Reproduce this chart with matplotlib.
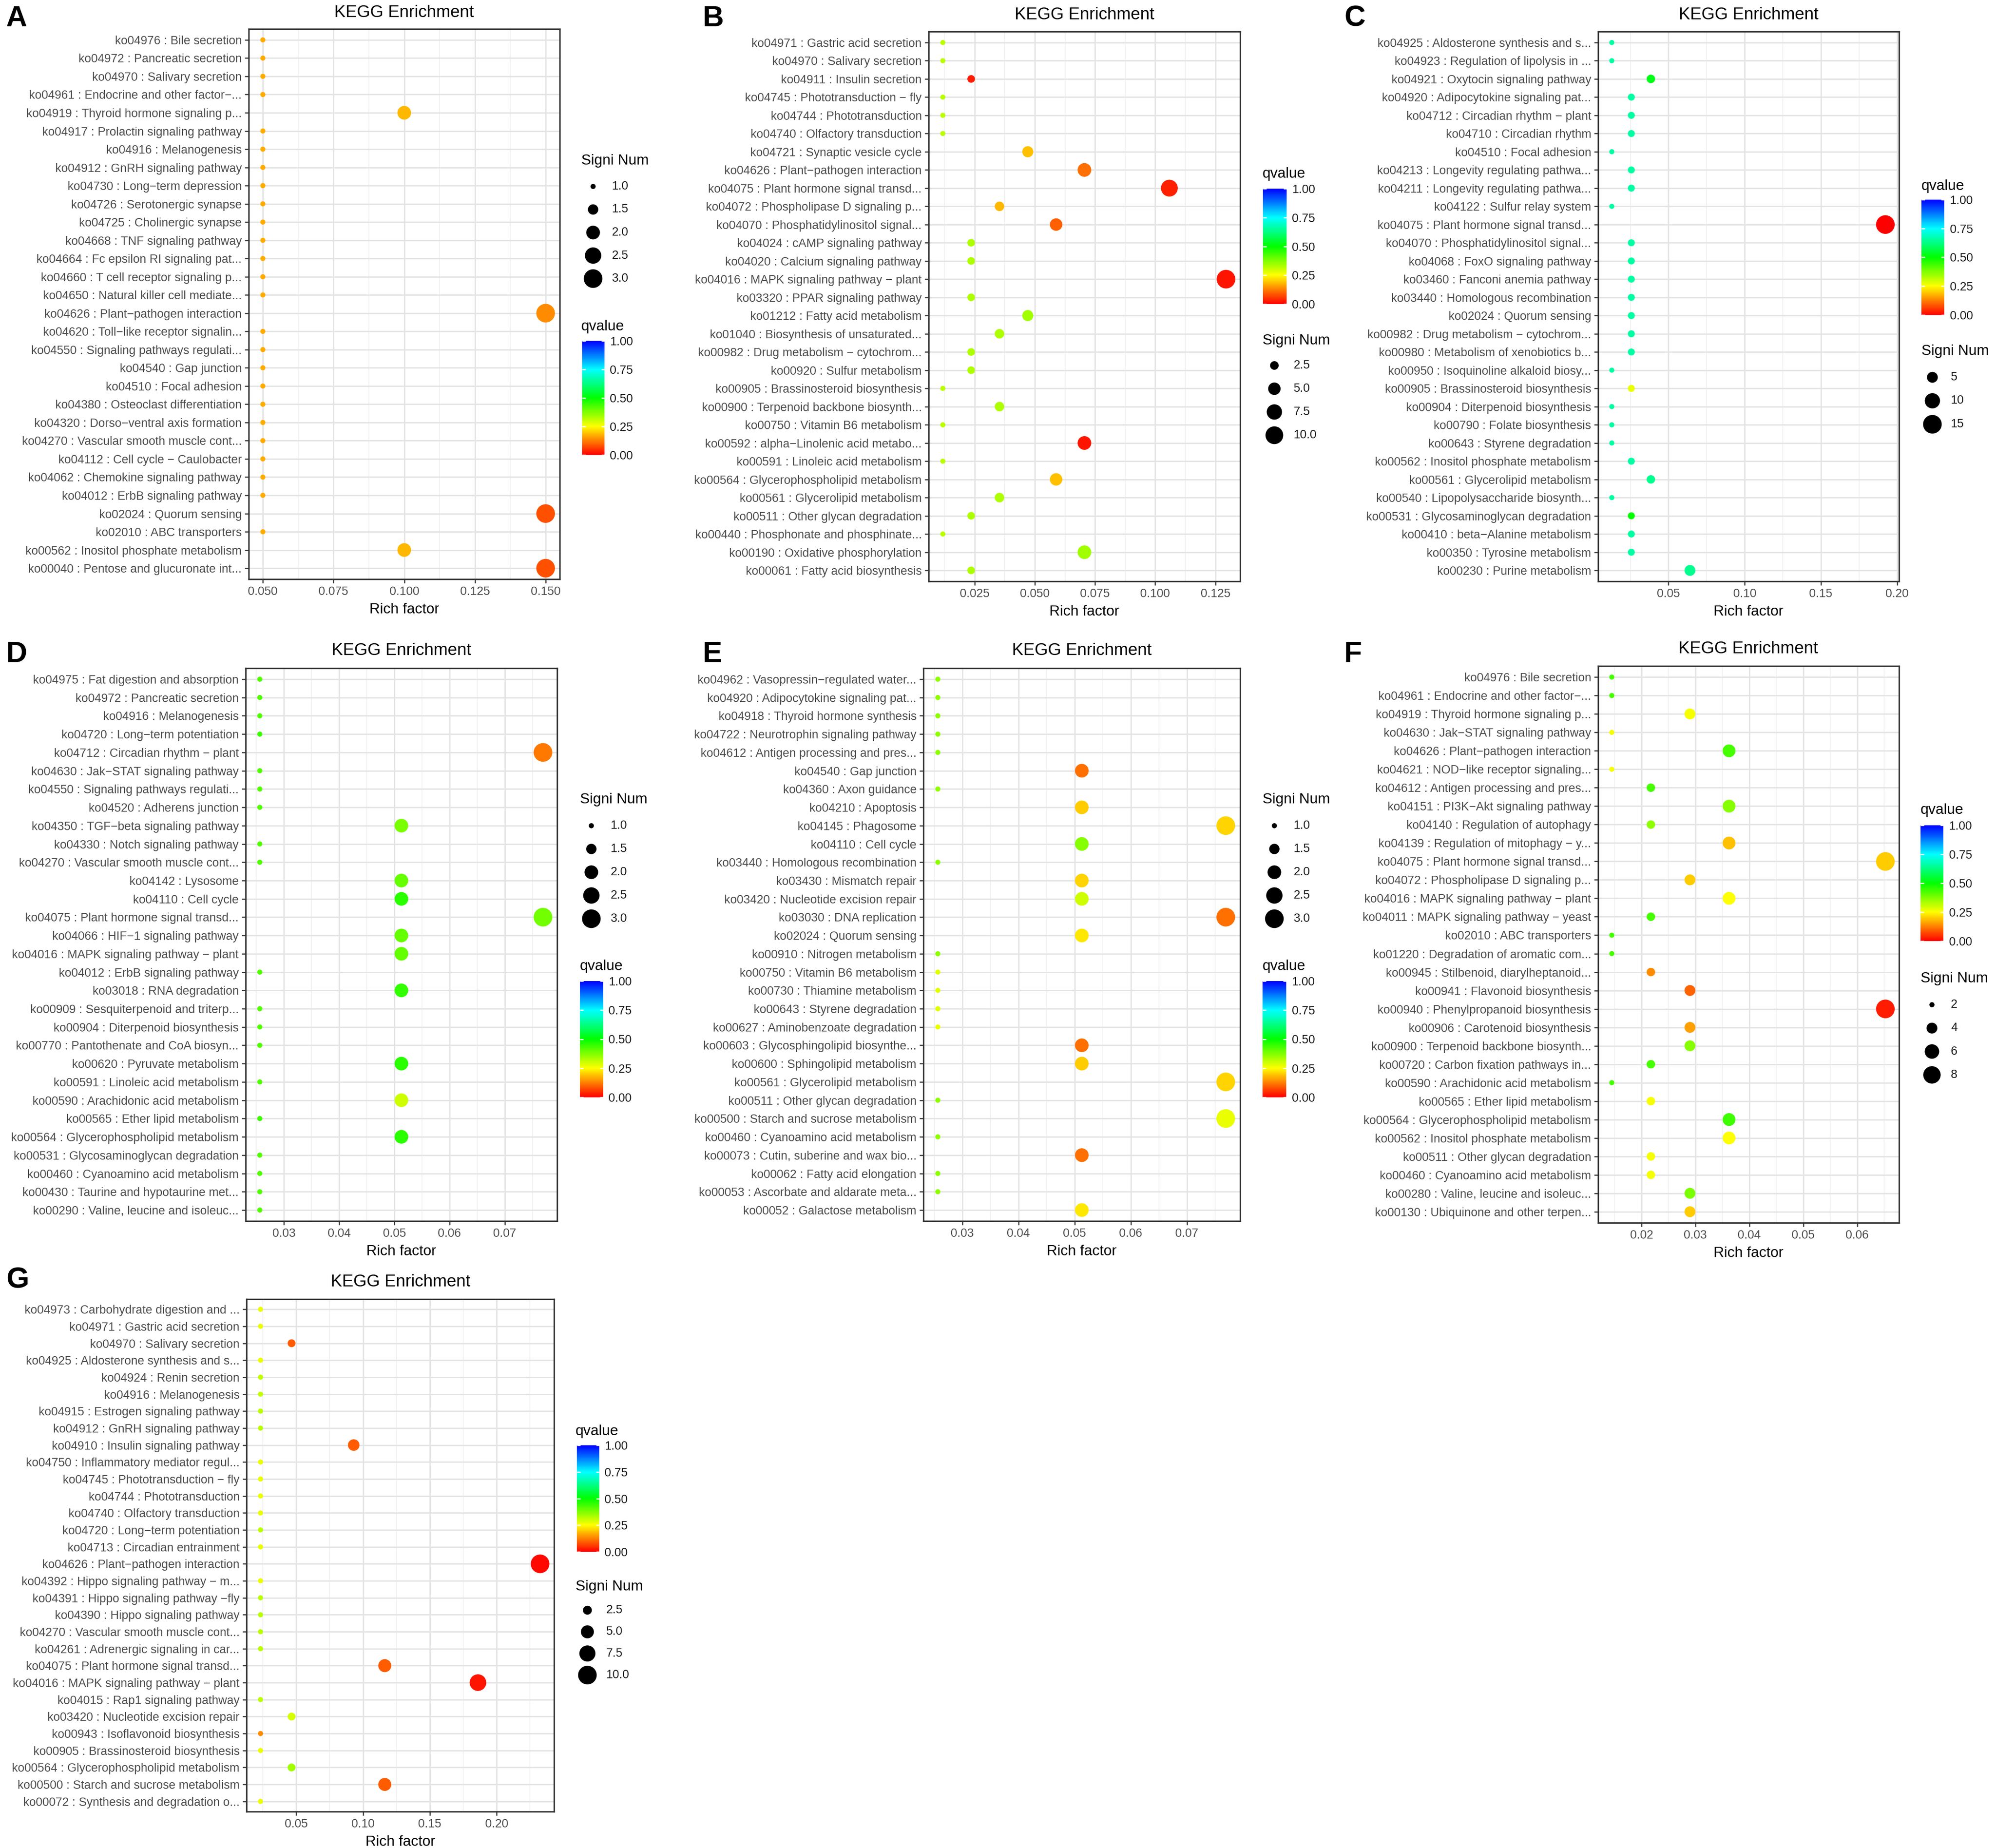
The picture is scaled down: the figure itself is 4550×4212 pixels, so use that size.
import numpy as np
import matplotlib
matplotlib.use("Agg")
import matplotlib.pyplot as plt
from matplotlib.colors import LinearSegmentedColormap, Normalize
from matplotlib.cm import ScalarMappable
from matplotlib.ticker import MultipleLocator, FormatStrFormatter

plt.rcParams['font.family'] = ['Liberation Sans', 'DejaVu Sans']

# ---------------- data ----------------
a_terms = [
    "ko04976 : Bile secretion", "ko04972 : Pancreatic secretion", "ko04970 : Salivary secretion",
    "ko04961 : Endocrine and other factor−...", "ko04919 : Thyroid hormone signaling p...",
    "ko04917 : Prolactin signaling pathway", "ko04916 : Melanogenesis", "ko04912 : GnRH signaling pathway",
    "ko04730 : Long−term depression", "ko04726 : Serotonergic synapse", "ko04725 : Cholinergic synapse",
    "ko04668 : TNF signaling pathway", "ko04664 : Fc epsilon RI signaling pat...",
    "ko04660 : T cell receptor signaling p...", "ko04650 : Natural killer cell mediate...",
    "ko04626 : Plant−pathogen interaction", "ko04620 : Toll−like receptor signalin...",
    "ko04550 : Signaling pathways regulati...", "ko04540 : Gap junction", "ko04510 : Focal adhesion",
    "ko04380 : Osteoclast differentiation", "ko04320 : Dorso−ventral axis formation",
    "ko04270 : Vascular smooth muscle cont...", "ko04112 : Cell cycle − Caulobacter",
    "ko04062 : Chemokine signaling pathway", "ko04012 : ErbB signaling pathway",
    "ko02024 : Quorum sensing", "ko02010 : ABC transporters",
    "ko00562 : Inositol phosphate metabolism", "ko00040 : Pentose and glucuronate int...",
]
a_signi = [1, 1, 1, 1, 2, 1, 1, 1, 1, 1, 1, 1, 1, 1, 1, 3, 1, 1, 1, 1, 1, 1, 1, 1, 1, 1, 3, 1, 2, 3]
a_q = [0.17, 0.17, 0.17, 0.17, 0.18, 0.17, 0.17, 0.17, 0.17, 0.17, 0.17, 0.17, 0.17, 0.17, 0.17,
       0.14, 0.17, 0.17, 0.17, 0.17, 0.17, 0.17, 0.17, 0.17, 0.17, 0.17, 0.08, 0.17, 0.18, 0.08]
a_total = 20

b_terms = [
    "ko04971 : Gastric acid secretion", "ko04970 : Salivary secretion", "ko04911 : Insulin secretion",
    "ko04745 : Phototransduction − fly", "ko04744 : Phototransduction", "ko04740 : Olfactory transduction",
    "ko04721 : Synaptic vesicle cycle", "ko04626 : Plant−pathogen interaction",
    "ko04075 : Plant hormone signal transd...", "ko04072 : Phospholipase D signaling p...",
    "ko04070 : Phosphatidylinositol signal...", "ko04024 : cAMP signaling pathway",
    "ko04020 : Calcium signaling pathway", "ko04016 : MAPK signaling pathway − plant",
    "ko03320 : PPAR signaling pathway", "ko01212 : Fatty acid metabolism",
    "ko01040 : Biosynthesis of unsaturated...", "ko00982 : Drug metabolism − cytochrom...",
    "ko00920 : Sulfur metabolism", "ko00905 : Brassinosteroid biosynthesis",
    "ko00900 : Terpenoid backbone biosynth...", "ko00750 : Vitamin B6 metabolism",
    "ko00592 : alpha−Linolenic acid metabo...", "ko00591 : Linoleic acid metabolism",
    "ko00564 : Glycerophospholipid metabolism", "ko00561 : Glycerolipid metabolism",
    "ko00511 : Other glycan degradation", "ko00440 : Phosphonate and phosphinate...",
    "ko00190 : Oxidative phosphorylation", "ko00061 : Fatty acid biosynthesis",
]
b_signi = [1, 1, 2, 1, 1, 1, 4, 6, 9, 3, 5, 2, 2, 11, 2, 4, 3, 2, 2, 1, 3, 1, 6, 1, 5, 3, 2, 1, 6, 2]
b_q = [0.32, 0.32, 0.03, 0.32, 0.32, 0.32, 0.19, 0.11, 0.035, 0.18, 0.095, 0.33, 0.33, 0.02, 0.33,
       0.34, 0.33, 0.33, 0.33, 0.32, 0.33, 0.32, 0.02, 0.32, 0.19, 0.33, 0.33, 0.32, 0.34, 0.33]
b_total = 85

c_terms = [
    "ko04925 : Aldosterone synthesis and s...", "ko04923 : Regulation of lipolysis in ...",
    "ko04921 : Oxytocin signaling pathway", "ko04920 : Adipocytokine signaling pat...",
    "ko04712 : Circadian rhythm − plant", "ko04710 : Circadian rhythm", "ko04510 : Focal adhesion",
    "ko04213 : Longevity regulating pathwa...", "ko04211 : Longevity regulating pathwa...",
    "ko04122 : Sulfur relay system", "ko04075 : Plant hormone signal transd...",
    "ko04070 : Phosphatidylinositol signal...", "ko04068 : FoxO signaling pathway",
    "ko03460 : Fanconi anemia pathway", "ko03440 : Homologous recombination",
    "ko02024 : Quorum sensing", "ko00982 : Drug metabolism − cytochrom...",
    "ko00980 : Metabolism of xenobiotics b...", "ko00950 : Isoquinoline alkaloid biosy...",
    "ko00905 : Brassinosteroid biosynthesis", "ko00904 : Diterpenoid biosynthesis",
    "ko00790 : Folate biosynthesis", "ko00643 : Styrene degradation",
    "ko00562 : Inositol phosphate metabolism", "ko00561 : Glycerolipid metabolism",
    "ko00540 : Lipopolysaccharide biosynth...", "ko00531 : Glycosaminoglycan degradation",
    "ko00410 : beta−Alanine metabolism", "ko00350 : Tyrosine metabolism", "ko00230 : Purine metabolism",
]
c_signi = [1, 1, 3, 2, 2, 2, 1, 2, 2, 1, 15, 2, 2, 2, 2, 2, 2, 2, 1, 2, 1, 1, 1, 2, 3, 1, 2, 2, 2, 5]
c_q = [0.66, 0.66, 0.52, 0.66, 0.66, 0.66, 0.66, 0.66, 0.66, 0.66, 0.0, 0.66, 0.66, 0.66, 0.66,
       0.66, 0.66, 0.66, 0.66, 0.27, 0.66, 0.66, 0.66, 0.66, 0.64, 0.66, 0.50, 0.66, 0.66, 0.64]
c_total = 78

d_terms = [
    "ko04975 : Fat digestion and absorption", "ko04972 : Pancreatic secretion", "ko04916 : Melanogenesis",
    "ko04720 : Long−term potentiation", "ko04712 : Circadian rhythm − plant",
    "ko04630 : Jak−STAT signaling pathway", "ko04550 : Signaling pathways regulati...",
    "ko04520 : Adherens junction", "ko04350 : TGF−beta signaling pathway",
    "ko04330 : Notch signaling pathway", "ko04270 : Vascular smooth muscle cont...",
    "ko04142 : Lysosome", "ko04110 : Cell cycle", "ko04075 : Plant hormone signal transd...",
    "ko04066 : HIF−1 signaling pathway", "ko04016 : MAPK signaling pathway − plant",
    "ko04012 : ErbB signaling pathway", "ko03018 : RNA degradation",
    "ko00909 : Sesquiterpenoid and triterp...", "ko00904 : Diterpenoid biosynthesis",
    "ko00770 : Pantothenate and CoA biosyn...", "ko00620 : Pyruvate metabolism",
    "ko00591 : Linoleic acid metabolism", "ko00590 : Arachidonic acid metabolism",
    "ko00565 : Ether lipid metabolism", "ko00564 : Glycerophospholipid metabolism",
    "ko00531 : Glycosaminoglycan degradation", "ko00460 : Cyanoamino acid metabolism",
    "ko00430 : Taurine and hypotaurine met...", "ko00290 : Valine, leucine and isoleuc...",
]
d_signi = [1, 1, 1, 1, 3, 1, 1, 1, 2, 1, 1, 2, 2, 3, 2, 2, 1, 2, 1, 1, 1, 2, 1, 2, 1, 2, 1, 1, 1, 1]
d_q = [0.42, 0.42, 0.42, 0.44, 0.12, 0.42, 0.42, 0.42, 0.38, 0.42, 0.42, 0.40, 0.46, 0.39, 0.40,
       0.40, 0.42, 0.45, 0.42, 0.42, 0.42, 0.46, 0.42, 0.30, 0.44, 0.46, 0.42, 0.42, 0.42, 0.42]
d_total = 39

e_terms = [
    "ko04962 : Vasopressin−regulated water...", "ko04920 : Adipocytokine signaling pat...",
    "ko04918 : Thyroid hormone synthesis", "ko04722 : Neurotrophin signaling pathway",
    "ko04612 : Antigen processing and pres...", "ko04540 : Gap junction", "ko04360 : Axon guidance",
    "ko04210 : Apoptosis", "ko04145 : Phagosome", "ko04110 : Cell cycle",
    "ko03440 : Homologous recombination", "ko03430 : Mismatch repair",
    "ko03420 : Nucleotide excision repair", "ko03030 : DNA replication", "ko02024 : Quorum sensing",
    "ko00910 : Nitrogen metabolism", "ko00750 : Vitamin B6 metabolism", "ko00730 : Thiamine metabolism",
    "ko00643 : Styrene degradation", "ko00627 : Aminobenzoate degradation",
    "ko00603 : Glycosphingolipid biosynthe...", "ko00600 : Sphingolipid metabolism",
    "ko00561 : Glycerolipid metabolism", "ko00511 : Other glycan degradation",
    "ko00500 : Starch and sucrose metabolism", "ko00460 : Cyanoamino acid metabolism",
    "ko00073 : Cutin, suberine and wax bio...", "ko00062 : Fatty acid elongation",
    "ko00053 : Ascorbate and aldarate meta...", "ko00052 : Galactose metabolism",
]
e_signi = [1, 1, 1, 1, 1, 2, 1, 2, 3, 2, 1, 2, 2, 3, 2, 1, 1, 1, 1, 1, 2, 2, 3, 1, 3, 1, 2, 1, 1, 2]
e_q = [0.36, 0.36, 0.36, 0.36, 0.36, 0.11, 0.36, 0.20, 0.21, 0.37, 0.36, 0.21, 0.30, 0.11, 0.23,
       0.36, 0.28, 0.28, 0.28, 0.27, 0.11, 0.20, 0.21, 0.36, 0.27, 0.36, 0.11, 0.36, 0.36, 0.23]
e_total = 39

f_terms = [
    "ko04976 : Bile secretion", "ko04961 : Endocrine and other factor−...",
    "ko04919 : Thyroid hormone signaling p...", "ko04630 : Jak−STAT signaling pathway",
    "ko04626 : Plant−pathogen interaction", "ko04621 : NOD−like receptor signaling...",
    "ko04612 : Antigen processing and pres...", "ko04151 : PI3K−Akt signaling pathway",
    "ko04140 : Regulation of autophagy", "ko04139 : Regulation of mitophagy − y...",
    "ko04075 : Plant hormone signal transd...", "ko04072 : Phospholipase D signaling p...",
    "ko04016 : MAPK signaling pathway − plant", "ko04011 : MAPK signaling pathway − yeast",
    "ko02010 : ABC transporters", "ko01220 : Degradation of aromatic com...",
    "ko00945 : Stilbenoid, diarylheptanoid...", "ko00941 : Flavonoid biosynthesis",
    "ko00940 : Phenylpropanoid biosynthesis", "ko00906 : Carotenoid biosynthesis",
    "ko00900 : Terpenoid backbone biosynth...", "ko00720 : Carbon fixation pathways in...",
    "ko00590 : Arachidonic acid metabolism", "ko00565 : Ether lipid metabolism",
    "ko00564 : Glycerophospholipid metabolism", "ko00562 : Inositol phosphate metabolism",
    "ko00511 : Other glycan degradation", "ko00460 : Cyanoamino acid metabolism",
    "ko00280 : Valine, leucine and isoleuc...", "ko00130 : Ubiquinone and other terpen...",
]
f_signi = [2, 2, 4, 2, 5, 2, 3, 5, 3, 5, 9, 4, 5, 3, 2, 2, 3, 4, 9, 4, 4, 3, 2, 3, 5, 5, 3, 3, 4, 4]
f_q = [0.43, 0.43, 0.26, 0.26, 0.43, 0.26, 0.43, 0.37, 0.36, 0.19, 0.20, 0.20, 0.25, 0.43, 0.43,
       0.43, 0.14, 0.10, 0.03, 0.16, 0.37, 0.43, 0.43, 0.26, 0.44, 0.25, 0.26, 0.26, 0.38, 0.20]
f_total = 138

g_terms = [
    "ko04973 : Carbohydrate digestion and ...", "ko04971 : Gastric acid secretion",
    "ko04970 : Salivary secretion", "ko04925 : Aldosterone synthesis and s...",
    "ko04924 : Renin secretion", "ko04916 : Melanogenesis", "ko04915 : Estrogen signaling pathway",
    "ko04912 : GnRH signaling pathway", "ko04910 : Insulin signaling pathway",
    "ko04750 : Inflammatory mediator regul...", "ko04745 : Phototransduction − fly",
    "ko04744 : Phototransduction", "ko04740 : Olfactory transduction",
    "ko04720 : Long−term potentiation", "ko04713 : Circadian entrainment",
    "ko04626 : Plant−pathogen interaction", "ko04392 : Hippo signaling pathway − m...",
    "ko04391 : Hippo signaling pathway −fly", "ko04390 : Hippo signaling pathway",
    "ko04270 : Vascular smooth muscle cont...", "ko04261 : Adrenergic signaling in car...",
    "ko04075 : Plant hormone signal transd...", "ko04016 : MAPK signaling pathway − plant",
    "ko04015 : Rap1 signaling pathway", "ko03420 : Nucleotide excision repair",
    "ko00943 : Isoflavonoid biosynthesis", "ko00905 : Brassinosteroid biosynthesis",
    "ko00564 : Glycerophospholipid metabolism", "ko00500 : Starch and sucrose metabolism",
    "ko00072 : Synthesis and degradation o...",
]
g_signi = [1, 1, 2, 1, 1, 1, 1, 1, 4, 1, 1, 1, 1, 1, 1, 10, 1, 1, 1, 1, 1, 5, 8, 1, 2, 1, 1, 2, 5, 1]
g_q = [0.27, 0.27, 0.09, 0.27, 0.31, 0.31, 0.32, 0.32, 0.09, 0.27, 0.27, 0.27, 0.27, 0.32, 0.27,
       0.01, 0.27, 0.32, 0.32, 0.32, 0.32, 0.09, 0.02, 0.32, 0.29, 0.14, 0.27, 0.34, 0.09, 0.27]
g_total = 43

# ---------------- layout (pixels of the 4550x4212 output) ----------------
W, H = 4550, 4212
qcmap = LinearSegmentedColormap.from_list(
    "qv", [(0, "#ff0000"), (0.25, "#ffff00"), (0.5, "#00ff00"), (0.75, "#00ffff"), (1, "#0000ff")])
DMIN, DMAX = 2.8, 10.2   # point diameters (pt) for smallest / largest Signi Num

# letter, data, box(l,t,r,b), title(x,y), letter(x,y), tick step, tick fmt,
# size legend (breaks, fmt, title y, first key y, key step, dot x, label x, left x),
# qvalue legend (title y, bar l,t,r,b, left x)
panels = [
    dict(letter="A", terms=a_terms, signi=a_signi, q=a_q, total=a_total,
         box=(567, 66, 1276, 1320), title=(921, 29), lab=(13, 43), step=0.025, fmt="%.3f",
         sbreaks=[1, 1.5, 2, 2.5, 3], sfmt="%.1f", sy=367, sk=425, sstep=52.5, sdx=1352, slx=1395, sx=1325,
         qy=744, cb=(1327, 777, 1378, 1037), qx=1325),
    dict(letter="B", terms=b_terms, signi=b_signi, q=b_q, total=b_total,
         box=(2117, 72, 2827, 1325), title=(2472, 34), lab=(1602, 43), step=0.025, fmt="%.3f",
         sbreaks=[2.5, 5, 7.5, 10], sfmt="%.1f", sy=776, sk=833, sstep=53, sdx=2905, slx=2949, sx=2878,
         qy=397, cb=(2879, 430, 2933, 693), qx=2878),
    dict(letter="C", terms=c_terms, signi=c_signi, q=c_q, total=c_total,
         box=(3643, 72, 4329, 1325), title=(3986, 34), lab=(3064, 43), step=0.05, fmt="%.2f",
         sbreaks=[5, 10, 15], sfmt="%d", sy=801, sk=860, sstep=53.5, sdx=4405, slx=4447, sx=4380,
         qy=424, cb=(4380, 455, 4432, 718), qx=4380),
    dict(letter="D", terms=d_terms, signi=d_signi, q=d_q, total=d_total,
         box=(560, 1523, 1270, 2783), title=(915, 1483), lab=(14, 1492), step=0.01, fmt="%.2f",
         sbreaks=[1, 1.5, 2, 2.5, 3], sfmt="%.1f", sy=1823, sk=1882, sstep=53, sdx=1348, slx=1392, sx=1322,
         qy=2202, cb=(1322, 2236, 1375, 2501), qx=1322),
    dict(letter="E", terms=e_terms, signi=e_signi, q=e_q, total=e_total,
         box=(2105, 1523, 2827, 2783), title=(2466, 1483), lab=(1602, 1492), step=0.01, fmt="%.2f",
         sbreaks=[1, 1.5, 2, 2.5, 3], sfmt="%.1f", sy=1823, sk=1882, sstep=53, sdx=2905, slx=2949, sx=2878,
         qy=2202, cb=(2878, 2236, 2932, 2501), qx=2878),
    dict(letter="F", terms=f_terms, signi=f_signi, q=f_q, total=f_total,
         box=(3643, 1518, 4329, 2787), title=(3985, 1479), lab=(3064, 1492), step=0.01, fmt="%.2f",
         sbreaks=[2, 4, 6, 8], sfmt="%d", sy=2230, sk=2290, sstep=53.3, sdx=4404, slx=4447, sx=4378,
         qy=1847, cb=(4378, 1881, 4430, 2145), qx=4378),
    dict(letter="G", terms=g_terms, signi=g_signi, q=g_q, total=g_total,
         box=(562, 2961, 1263, 4129), title=(913, 2922), lab=(14, 2918), step=0.05, fmt="%.2f",
         sbreaks=[2.5, 5, 7.5, 10], sfmt="%.1f", sy=3616, sk=3670, sstep=49.3, sdx=1339, slx=1382, sx=1312,
         qy=3262, cb=(1315, 3294, 1366, 3537), qx=1312),
]


def rect(l, t, r, b):
    return [l / W, 1 - b / H, (r - l) / W, (b - t) / H]


def diam(v, vmin, vmax):
    v = np.asarray(v, float)
    return np.sqrt(DMIN ** 2 + (DMAX ** 2 - DMIN ** 2) * (v - vmin) / (vmax - vmin))


fig = plt.figure(figsize=(W / 300, H / 300), dpi=300)
fig.patch.set_facecolor("white")
ov = fig.add_axes([0, 0, 1, 1], zorder=10)
ov.set_xlim(0, W)
ov.set_ylim(H, 0)
ov.axis("off")

for p in panels:
    ax = fig.add_axes(rect(*p["box"]))
    signi = np.array(p["signi"], float)
    rich = signi / p["total"]
    n = len(p["terms"])
    y = np.arange(n)[::-1]
    vmin, vmax = signi.min(), signi.max()
    ax.scatter(rich, y, s=diam(signi, vmin, vmax) ** 2, c=p["q"], cmap=qcmap, vmin=0, vmax=1,
               linewidths=0, zorder=3)
    pad = (rich.max() - rich.min()) * 0.05
    ax.set_xlim(rich.min() - pad, rich.max() + pad)
    ax.set_ylim(-0.6, n - 0.4)
    ax.set_yticks(y)
    ax.set_yticklabels(p["terms"])
    ax.xaxis.set_major_locator(MultipleLocator(p["step"]))
    ax.xaxis.set_minor_locator(MultipleLocator(p["step"] / 2))
    ax.xaxis.set_major_formatter(FormatStrFormatter(p["fmt"]))
    ax.set_axisbelow(True)
    ax.grid(which="minor", axis="x", color="#f1f1f1", lw=0.45)
    ax.grid(which="major", color="#e4e4e4", lw=0.75)
    ax.tick_params(which="major", length=2.2, width=0.6, color="#333333", labelsize=6.5,
                   labelcolor="#4d4d4d", pad=1.6)
    ax.tick_params(which="minor", length=0)
    for s in ax.spines.values():
        s.set_color("#333333")
        s.set_linewidth(0.8)
    ax.set_xlabel("Rich factor", fontsize=8, labelpad=3)

    ov.text(p["title"][0], p["title"][1], "KEGG Enrichment", fontsize=9.3, ha="center", va="center")
    ov.text(p["lab"][0], p["lab"][1], p["letter"], fontsize=16, fontweight="bold", ha="left", va="center")

    # size legend
    ov.text(p["sx"], p["sy"], "Signi Num", fontsize=8, ha="left", va="center")
    br = np.array(p["sbreaks"], float)
    ky = p["sk"] + p["sstep"] * np.arange(len(br))
    ov.scatter(np.full(len(br), p["sdx"]), ky, s=diam(br, vmin, vmax) ** 2, color="black", linewidths=0)
    for yy, b in zip(ky, br):
        ov.text(p["slx"], yy, p["sfmt"] % b, fontsize=6.5, ha="left", va="center", color="#1a1a1a")

    # qvalue colourbar
    ov.text(p["qx"], p["qy"], "qvalue", fontsize=8, ha="left", va="center")
    cax = fig.add_axes(rect(*p["cb"]))
    cb = fig.colorbar(ScalarMappable(norm=Normalize(0, 1), cmap=qcmap), cax=cax)
    cb.set_ticks([0, 0.25, 0.5, 0.75, 1.0])
    cb.set_ticklabels(["0.00", "0.25", "0.50", "0.75", "1.00"])
    cb.outline.set_visible(False)
    cax.tick_params(axis="y", direction="in", color="white", length=1.8, width=0.6,
                    left=True, right=True, labelleft=False, labelright=True,
                    labelsize=6.5, labelcolor="#1a1a1a", pad=3)

fig.savefig("out.png", dpi=300, facecolor="white")
